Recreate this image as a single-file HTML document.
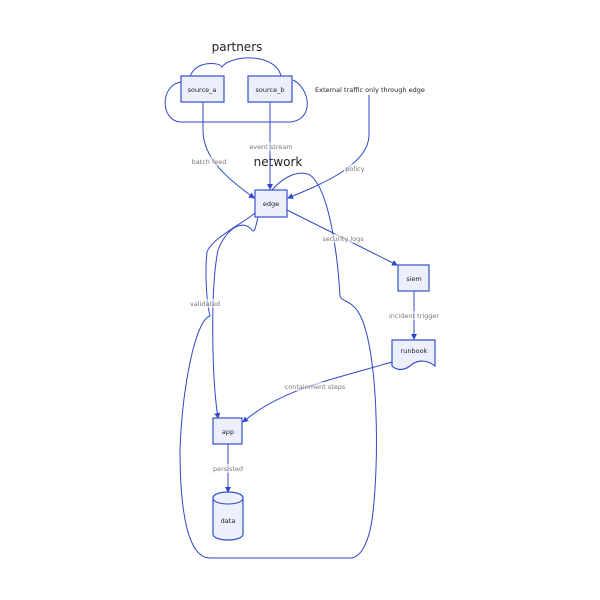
<!DOCTYPE html>
<html><head><style>
body{margin:0;background:#fff;}
svg{display:block;font-family:"DejaVu Sans","Liberation Sans",sans-serif;}
.n{fill:#ecf0fc;stroke:#3550c8;stroke-width:1.2;}
.l{fill:none;stroke:#2e48c8;stroke-width:1;}
.t{font-size:6.5px;fill:#222;text-anchor:middle;}
.e{font-size:6.5px;fill:#777;text-anchor:middle;}
.b{fill:#fff;opacity:0.6;}
</style></head><body>
<svg width="600" height="600" viewBox="0 0 600 600">
<defs><marker id="a" markerWidth="6" markerHeight="6" refX="5" refY="3" orient="auto"><path d="M0,0L6,3L0,6z" fill="#2e48c8"/></marker></defs>
<path class="l" d="M190,77 C195,60 220,62 222,67 C230,55 275,52 281,76 M293,80 C310,88 315,120 290,122 L180,122 C160,120 160,85 181,82"/>
<text x="237" y="51" font-size="12" text-anchor="middle" fill="#222">partners</text>
<text x="278" y="166" font-size="12" text-anchor="middle" fill="#222">network</text>
<path class="l" d="M272,190 C285,175 300,170 310,175 C330,190 338,260 340,296 C342,302 352,300 360,315 C378,350 380,460 372,520 C368,545 360,558 350,558 L210,558 C190,558 180,520 180,450 C182,390 195,320 210,316 C206,300 205,270 207,252 C212,238 245,222 255,213"/>
<path class="l" d="M258,217 C254,235 254,232 250,228 C240,220 226,230 218,250 C210,290 212,380 218,418" marker-end="url(#a)"/>
<path class="l" d="M203,102 L203,130 C203,160 230,180 254,198" marker-end="url(#a)"/>
<path class="l" d="M270,102 L270,189" marker-end="url(#a)"/>
<path class="l" d="M369,95 L369,135 C369,165 320,185 288,198" marker-end="url(#a)"/>
<path class="l" d="M287,210 L397,265" marker-end="url(#a)"/>
<path class="l" d="M414,291 L414,339" marker-end="url(#a)"/>
<path class="l" d="M392,362 C330,380 280,390 243,422" marker-end="url(#a)"/>
<path class="l" d="M228,444 L228,492" marker-end="url(#a)"/>
<rect class="b" x="190" y="157" width="38" height="9"/><text class="e" x="209" y="164">batch feed</text>
<rect class="b" x="248" y="142" width="46" height="9"/><text class="e" x="271" y="149">event stream</text>
<rect class="b" x="344" y="164" width="24" height="9"/><text class="e" x="355" y="171">policy</text>
<rect class="b" x="322" y="234" width="42" height="9"/><text class="e" x="343" y="241">security logs</text>
<rect class="b" x="388" y="311" width="52" height="9"/><text class="e" x="414" y="318">incident trigger</text>
<rect class="b" x="284" y="382" width="62" height="9"/><text class="e" x="315" y="389">containment steps</text>
<rect class="b" x="190" y="299" width="32" height="9"/><text class="e" x="205" y="306">validated</text>
<rect class="b" x="212" y="464" width="32" height="9"/><text class="e" x="228" y="471">persisted</text>
<text x="315" y="92" font-size="6.5" fill="#222">External traffic only through edge</text>
<rect class="n" x="181" y="76" width="43" height="26"/><text class="t" x="202" y="92">source_a</text>
<rect class="n" x="248" y="76" width="44" height="26"/><text class="t" x="270" y="92">source_b</text>
<rect class="n" x="255" y="190" width="32" height="27"/><text class="t" x="271" y="206">edge</text>
<rect class="n" x="398" y="265" width="31" height="26"/><text class="t" x="414" y="281">siem</text>
<path class="n" d="M392,340 L435,340 L435,366 C425,358 415,361 410,366 C402,372 395,369 392,366 Z"/><text class="t" x="414" y="353">runbook</text>
<rect class="n" x="213" y="418" width="29" height="26"/><text class="t" x="228" y="434">app</text>
<path class="n" d="M213,498 C213,490 243,490 243,498 L243,534 C243,542 213,542 213,534 Z"/>
<path class="l" d="M213,498 C213,506 243,506 243,498"/>
<text class="t" x="228" y="523">data</text>
</svg>
</body></html>
